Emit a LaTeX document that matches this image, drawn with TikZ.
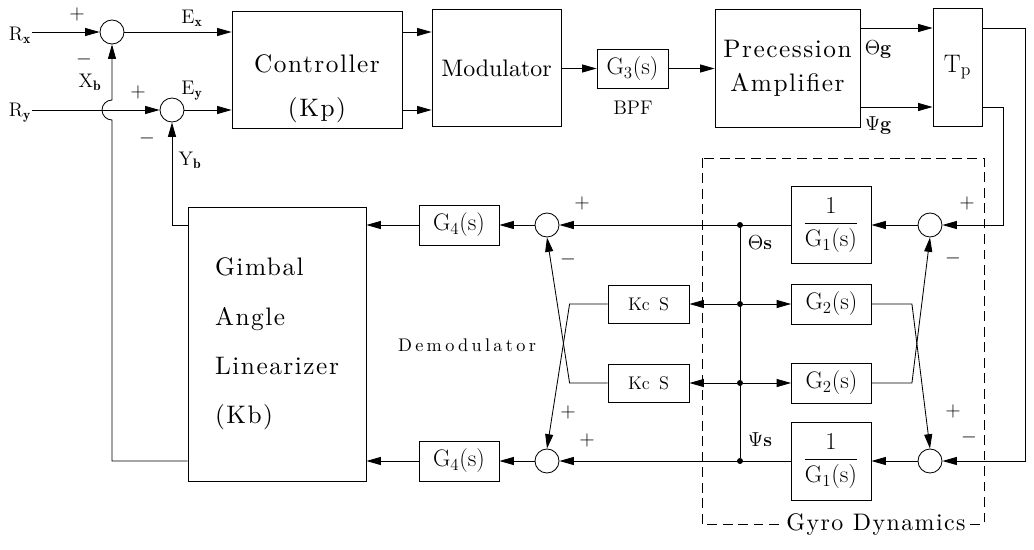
\documentclass[tikz,border=0pt]{standalone}
\usepackage{fontspec}
\usepackage{amsmath}
\usetikzlibrary{arrows.meta}
\newfontfamily\spcfont{lmroman10-regular.otf}[LetterSpace=6]
\newfontfamily\plainfont{lmroman10-regular.otf}
\newfontfamily\demfont{lmroman10-regular.otf}[LetterSpace=18]
\tikzset{
  blk/.style 2 args={draw, inner sep=0pt, minimum width=#1*0.025cm, minimum height=#2*0.025cm},
  sumc/.style={draw, circle, inner sep=0pt, minimum size=24*0.025cm},
  jdot/.style={fill, circle, inner sep=0pt, minimum size=6*0.025cm},
  big/.style={font=\spcfont\fontsize{18}{21}\selectfont},
  gtx/.style={font=\fontsize{17}{20}\selectfont},
  sml/.style={font=\fontsize{14}{16}\selectfont, inner sep=0pt},
  sgn/.style={font=\fontsize{14}{16}\selectfont, inner sep=0pt},
}

\begin{document}
\begin{tikzpicture}[x=0.025cm, y=-0.025cm, line width=0.6pt, >={Triangle[length=0.36cm,width=0.2cm]}]
\useasboundingbox (0,0) rectangle (1034,549);

% forward path
\node[sml] (rx) at (20,35) {R$_{\mathbf x}$};
\node[sml] (ry) at (20,113) {R$_{\mathbf y}$};
\node[sumc] (s1) at (112,32) {};
\node[sumc] (s2) at (172,110) {};
\node[blk={170}{117}] (ctrl) at (317,69.5) {};
\node[big] (ctrltxt) at (317,64) {Controller};
\node[big] (kptxt) at (317,110) {(Kp)};
\node[blk={129}{117}, font=\plainfont\fontsize{17}{20}\selectfont] (mod) at (496.5,68) {Modulator};
\node[blk={71}{39}, gtx] (g3) at (632.5,68.5) {G$_3$(s)};
\node[sml] (bpf) at (633,108) {BPF};
\node[blk={145}{118}, align=center, font=\spcfont\fontsize{18}{24}\selectfont] (pa) at (787.5,68) {Precession\\Amplifier};
\node[blk={49}{118}, font=\fontsize{18}{20}\selectfont] (tp) at (957.5,67) {T$_{\mathrm p}$};

% gimbal and demodulator
\node[blk={178}{274}, align=left, font=\spcfont\fontsize{18}{35}\selectfont] (gim) at (277,344) {Gimbal\\Angle\\Linearizer\\(Kb)};
\node[blk={80}{40}, gtx] (g4a) at (459,225) {G$_4$(s)};
\node[blk={80}{40}, gtx] (g4b) at (459,461) {G$_4$(s)};
\node[sumc] (s4) at (547,225) {};
\node[sumc] (s7) at (547,461) {};
\node[blk={81}{38}, font=\fontsize{13}{15}\selectfont] (kca) at (648.5,304) {Kc\hspace{0.5em}S};
\node[blk={81}{38}, font=\fontsize{13}{15}\selectfont] (kcb) at (648.5,383) {Kc\hspace{0.5em}S};
\node[font=\demfont\fontsize{13}{15}\selectfont] (demod) at (467,345) {Demodulator};

% gyro dynamics
\node[jdot] (ja) at (740,225) {};
\node[jdot] (jb) at (740,304) {};
\node[jdot] (jc) at (740,383) {};
\node[jdot] (jd) at (740,461) {};
\node[blk={80}{77}, gtx] (g1a) at (831,225) {$\dfrac{1}{\mathrm{G}_1(\mathrm{s})}$};
\node[blk={80}{40}, gtx] (g2a) at (831.5,304) {G$_2$(s)};
\node[blk={80}{40}, gtx] (g2b) at (831.5,383) {G$_2$(s)};
\node[blk={80}{78}, gtx] (g1b) at (831,461) {$\dfrac{1}{\mathrm{G}_1(\mathrm{s})}$};
\node[sumc] (s5) at (930,225) {};
\node[sumc] (s6) at (930,461) {};
\draw[dashed, dash pattern=on 7pt off 4pt] (702,158) rectangle (984,524);
\node[font=\spcfont\fontsize{17}{20}\selectfont, fill=white, inner sep=1pt] (gyro) at (876,525) {Gyro Dynamics};

% signal labels
\node[sgn] (p1) at (77,14) {$+$};
\node[sgn] (m1) at (84,59) {$-$};
\node[sml] (xb) at (90,82) {X$_{\mathbf b}$};
\node[sml] (ex) at (192,18) {E$_{\mathbf x}$};
\node[sgn] (p2) at (138,92) {$+$};
\node[sml] (ey) at (192,91) {E$_{\mathbf y}$};
\node[sgn] (m2) at (147,138) {$-$};
\node[sml] (yb) at (190,160) {Y$_{\mathbf b}$};
\node[sgn] (thg) at (878,50) {$\Theta$\textbf{g}};
\node[sgn] (psg) at (878,126) {$\Psi$\textbf{g}};
\node[sgn] (p4) at (582,203) {$+$};
\node[sgn] (m4) at (568,259) {$-$};
\node[sgn] (p7a) at (568,412) {$+$};
\node[sgn] (p7b) at (587,440) {$+$};
\node[sgn] (p5) at (967,203) {$+$};
\node[sgn] (m5) at (953,258) {$-$};
\node[sgn] (p6) at (953,411) {$+$};
\node[sgn] (m6) at (969,437) {$-$};
\node[sgn] (ths) at (760,243) {$\Theta$\textbf{s}};
\node[sgn] (pss) at (760,440) {$\Psi$\textbf{s}};

% connectors, top row
\draw[->] (rx.east |- s1) -- (s1);
\draw[->] (s1) -- (s1 -| ctrl.west);
\draw[->] (ry.east |- s2) -- (s2);
\draw[->] (s2) -- (s2 -| ctrl.west);
\draw[->] (ctrl.east |- s1) -- (mod.west |- s1);
\draw[->] (ctrl.east |- s2) -- (mod.west |- s2);
\draw[->] (mod.east |- g3) -- (g3);
\draw[->] (g3) -- (g3 -| pa.west);
\draw[->] (pa.east |- 0,28) -- (tp.west |- 0,28);
\draw[->] (pa.east |- 0,107) -- (tp.west |- 0,107);
\draw[->] (tp.east |- 0,28) -- ++(43,0) |- (s6);
\draw[->] (tp.east |- 0,107) -- ++(21,0) |- (s5);

% connectors, gyro loop
\draw[->] (s5) -- (g1a);
\draw[->] (g1a) -- (s4);
\draw (ja) -- (jd);
\draw[->] (jb) -- (g2a);
\draw[->] (jb) -- (kca);
\draw[->] (jc) -- (g2b);
\draw[->] (jc) -- (kcb);
\draw[->] (g2a.east) -- ++(40,0) -- (s6.north);
\draw[->] (g2b.east) -- ++(40,0) -- (s5.south);
\draw[->] (kca.west) -- ++(-38,0) -- (s7.north);
\draw[->] (kcb.west) -- ++(-38,0) -- (s4.south);
\draw[->] (s6) -- (g1b);
\draw[->] (g1b) -- (s7);
\draw[->] (s4) -- (g4a);
\draw[->] (s7) -- (g4b);
\draw[->] (g4a) -- (g4a -| gim.east);
\draw[->] (g4b) -- (g4b -| gim.east);

% feedback
\draw[->] (gim.west |- g4a) -- (s2 |- g4a) -- (s2);
\draw[->] (gim.west |- g4b) -- (s1 |- g4b) -- (112,120) arc[start angle=270, end angle=90, radius=0.25cm] -- (s1);
\end{tikzpicture}
\end{document}
